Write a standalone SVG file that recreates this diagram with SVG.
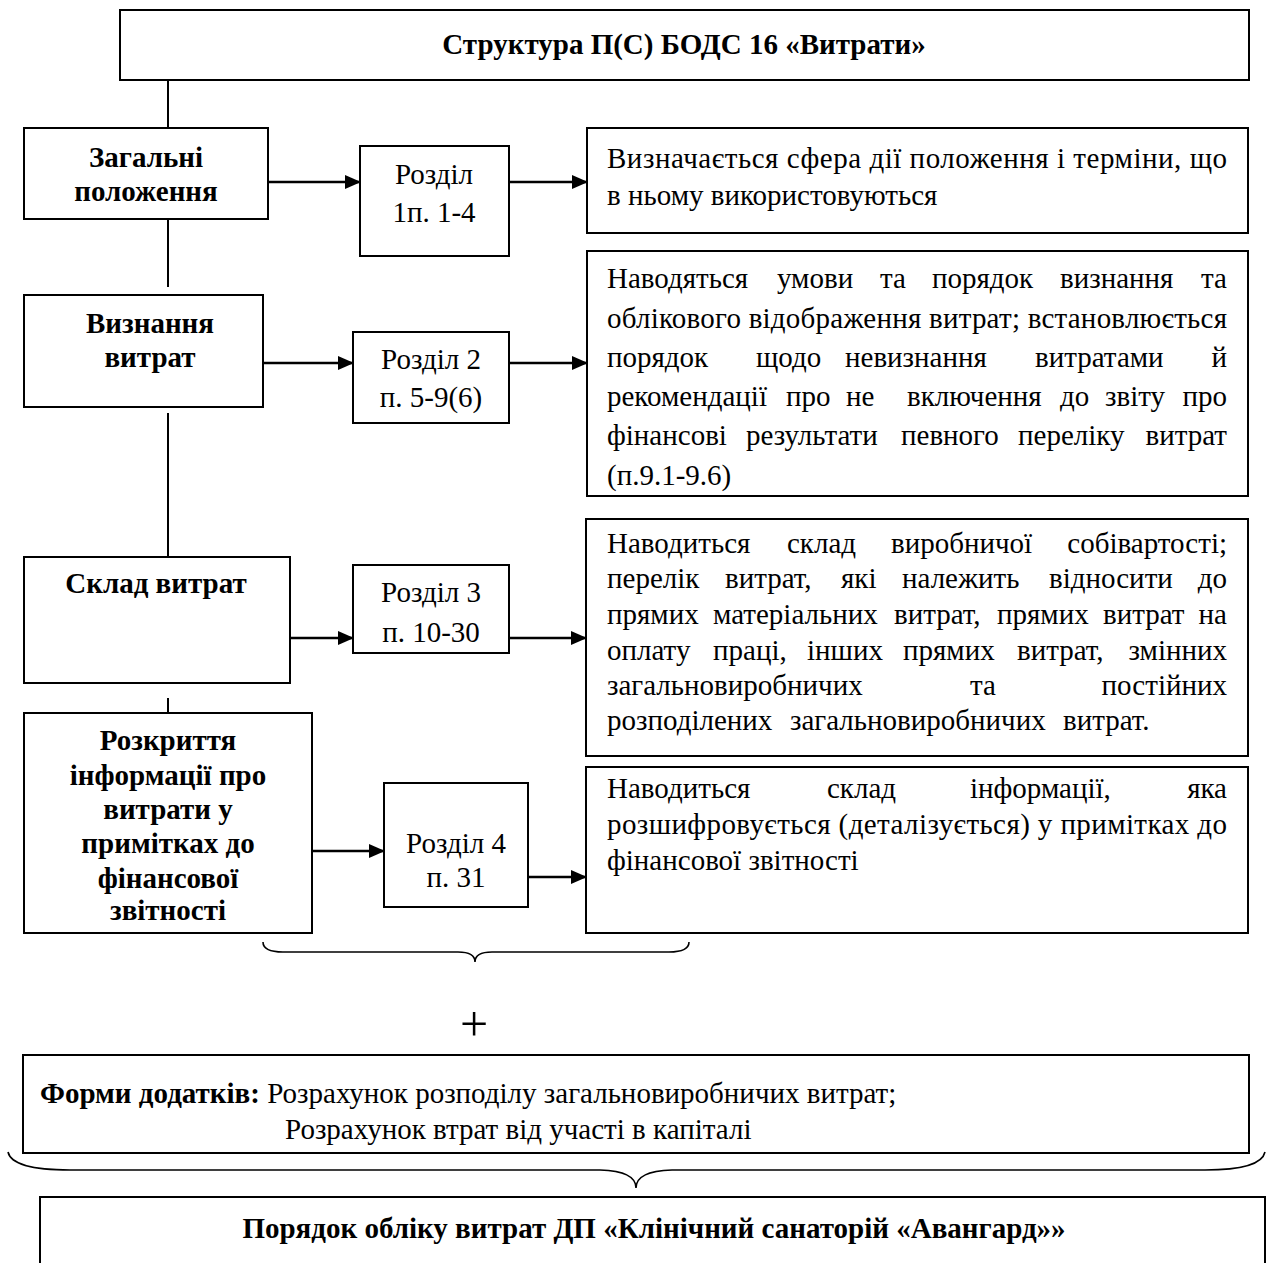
<svg xmlns="http://www.w3.org/2000/svg" width="1267" height="1263" viewBox="0 0 1267 1263">
<style>
.box{fill:#fff;stroke:#000;stroke-width:2}
.t{font-family:"Liberation Serif","Times New Roman",serif;font-size:29px;fill:#000}
.b{font-weight:bold}
.c{text-anchor:middle}
.e{text-anchor:end}
.ln{stroke:#000;stroke-width:2;fill:none}
.ar{stroke:#000;stroke-width:2.5;fill:none;marker-end:url(#ah)}
.br{stroke:#000;stroke-width:1.6;fill:none}
</style>
<defs>
<marker id="ah" markerUnits="userSpaceOnUse" markerWidth="16" markerHeight="14" refX="15" refY="7" orient="auto">
<path d="M0,0 L16,7 L0,14 z" fill="#000"/>
</marker>
</defs>
<rect x="0" y="0" width="1267" height="1263" fill="#fff"/>

<g id="connectors">
<line class="ln" x1="168" y1="80" x2="168" y2="128"/>
<line class="ln" x1="168" y1="219" x2="168" y2="287"/>
<line class="ln" x1="168" y1="413" x2="168" y2="557"/>
<line class="ln" x1="168" y1="698" x2="168" y2="713"/>
<line class="ar" x1="268" y1="182" x2="360" y2="182"/>
<line class="ar" x1="509" y1="182" x2="587" y2="182"/>
<line class="ar" x1="255" y1="363" x2="353" y2="363"/>
<line class="ar" x1="509" y1="363" x2="587" y2="363"/>
<line class="ar" x1="290" y1="638" x2="353" y2="638"/>
<line class="ar" x1="509" y1="638" x2="586" y2="638"/>
<line class="ar" x1="312" y1="851" x2="384" y2="851"/>
<line class="ar" x1="528" y1="877" x2="586" y2="877"/>
</g>

<g id="title">
<rect class="box" x="120" y="10" width="1129" height="70"/>
<text class="t b c" x="684" y="54">Структура П(С) БОДС 16 «Витрати»</text>
</g>

<g id="n-zagalni">
<rect class="box" x="24" y="128" width="244" height="91"/>
<text class="t b c" x="146" y="167">Загальні</text>
<text class="t b c" x="146" y="201">положення</text>
</g>
<g id="n-vyznannia">
<rect class="box" x="24" y="295" width="239" height="112"/>
<text class="t b c" x="150" y="333">Визнання</text>
<text class="t b c" x="150" y="367">витрат</text>
</g>
<g id="n-sklad">
<rect class="box" x="24" y="557" width="266" height="126"/>
<text class="t b c" x="156" y="593">Склад витрат</text>
</g>
<g id="n-rozkryttia">
<rect class="box" x="24" y="713" width="288" height="220"/>
<text class="t b c" x="168" y="750">Розкриття</text>
<text class="t b c" x="168" y="785">інформації про</text>
<text class="t b c" x="168" y="819">витрати у</text>
<text class="t b c" x="168" y="853">примітках до</text>
<text class="t b c" x="168" y="888">фінансової</text>
<text class="t b c" x="168" y="920">звітності</text>
</g>

<g id="n-r1">
<rect class="box" x="360" y="146" width="149" height="110"/>
<text class="t c" x="434" y="184">Розділ</text>
<text class="t c" x="434" y="222">1п. 1-4</text>
</g>
<g id="n-r2">
<rect class="box" x="353" y="332" width="156" height="91"/>
<text class="t c" x="431" y="369">Розділ 2</text>
<text class="t c" x="431" y="407">п. 5-9(6)</text>
</g>
<g id="n-r3">
<rect class="box" x="353" y="565" width="156" height="88"/>
<text class="t c" x="431" y="602">Розділ 3</text>
<text class="t c" x="431" y="642">п. 10-30</text>
</g>
<g id="n-r4">
<rect class="box" x="384" y="783" width="144" height="124"/>
<text class="t c" x="456" y="853">Розділ 4</text>
<text class="t c" x="456" y="887">п. 31</text>
</g>

<g id="n-d1">
<rect class="box" x="587" y="128" width="661" height="105"/>
<text class="t" x="607" y="168" textLength="620" lengthAdjust="spacing">Визначається сфера дії положення і терміни, що</text>
<text class="t" x="607" y="205">в ньому використовуються</text>
</g>

<g id="n-d2">
<rect class="box" x="587" y="251" width="661" height="245"/>
<text class="t" y="288"><tspan x="607">Наводяться</tspan><tspan x="777">умови</tspan><tspan x="880">та</tspan><tspan x="932">порядок</tspan><tspan x="1060">визнання</tspan></text>
<text class="t e" x="1227" y="288">та</text>
<text class="t" x="607" y="328" textLength="620" lengthAdjust="spacing">облікового відображення витрат; встановлюється</text>
<text class="t" y="367"><tspan x="607">порядок</tspan><tspan x="756">щодо</tspan><tspan x="845">невизнання</tspan><tspan x="1035">витратами</tspan></text>
<text class="t e" x="1227" y="367">й</text>
<text class="t" y="406"><tspan x="607">рекомендації</tspan><tspan x="786">про</tspan><tspan x="846">не</tspan><tspan x="907">включення</tspan><tspan x="1060">до</tspan><tspan x="1105">звіту</tspan></text>
<text class="t e" x="1227" y="406">про</text>
<text class="t" y="445"><tspan x="607">фінансові</tspan><tspan x="746">результати</tspan><tspan x="901">певного</tspan><tspan x="1018">переліку</tspan></text>
<text class="t e" x="1227" y="445">витрат</text>
<text class="t" x="607" y="485">(п.9.1-9.6)</text>
</g>

<g id="n-d3">
<rect class="box" x="586" y="519" width="662" height="237"/>
<text class="t" y="553"><tspan x="607">Наводиться</tspan><tspan x="787">склад</tspan><tspan x="891">виробничої</tspan></text>
<text class="t e" x="1227" y="553">собівартості;</text>
<text class="t" y="588"><tspan x="607">перелік</tspan><tspan x="725">витрат,</tspan><tspan x="841">які</tspan><tspan x="902">належить</tspan><tspan x="1049">відносити</tspan></text>
<text class="t e" x="1227" y="588">до</text>
<text class="t" y="624"><tspan x="607">прямих</tspan><tspan x="713">матеріальних</tspan><tspan x="894">витрат,</tspan><tspan x="997">прямих</tspan><tspan x="1103">витрат</tspan></text>
<text class="t e" x="1227" y="624">на</text>
<text class="t" y="660"><tspan x="607">оплату</tspan><tspan x="713">праці,</tspan><tspan x="807">інших</tspan><tspan x="903">прямих</tspan><tspan x="1017">витрат,</tspan></text>
<text class="t e" x="1227" y="660">змінних</text>
<text class="t" y="695"><tspan x="607">загальновиробничих</tspan><tspan x="970">та</tspan></text>
<text class="t e" x="1227" y="695">постійних</text>
<text class="t" y="730"><tspan x="607">розподілених</tspan><tspan x="790">загальновиробничих</tspan><tspan x="1063">витрат.</tspan></text>
</g>

<g id="n-d4">
<rect class="box" x="586" y="767" width="662" height="166"/>
<text class="t" y="798"><tspan x="607">Наводиться</tspan><tspan x="827">склад</tspan><tspan x="970">інформації,</tspan></text>
<text class="t e" x="1227" y="798">яка</text>
<text class="t" x="607" y="834" textLength="620" lengthAdjust="spacing">розшифровується (деталізується) у примітках до</text>
<text class="t" x="607" y="870">фінансової звітності</text>
</g>

<g id="braces">
<path class="br" d="M263,942 Q263,952 283,952 L458,952 Q475,952 475,962 Q475,952 492,952 L669,952 Q689,952 689,942"/>
<path class="br" d="M8,1152 Q12,1170 70,1170 L600,1170 Q636,1171 636,1188 Q636,1171 672,1170 L1205,1170 Q1261,1170 1265,1152"/>
</g>

<g id="plus">
<text class="t c" x="474" y="1041" style="font-size:50px;font-weight:300">+</text>
</g>

<g id="n-forms">
<rect class="box" x="23" y="1055" width="1226" height="98"/>
<text class="t" x="40" y="1103"><tspan class="b">Форми додатків:</tspan> Розрахунок розподілу загальновиробничих витрат;</text>
<text class="t" x="285" y="1139">Розрахунок втрат від участі в капіталі</text>
</g>

<g id="n-poriadok">
<rect class="box" x="40" y="1197" width="1225" height="80"/>
<text class="t b c" x="654" y="1238">Порядок обліку витрат ДП «Клінічний санаторій «Авангард»»</text>
</g>
</svg>
